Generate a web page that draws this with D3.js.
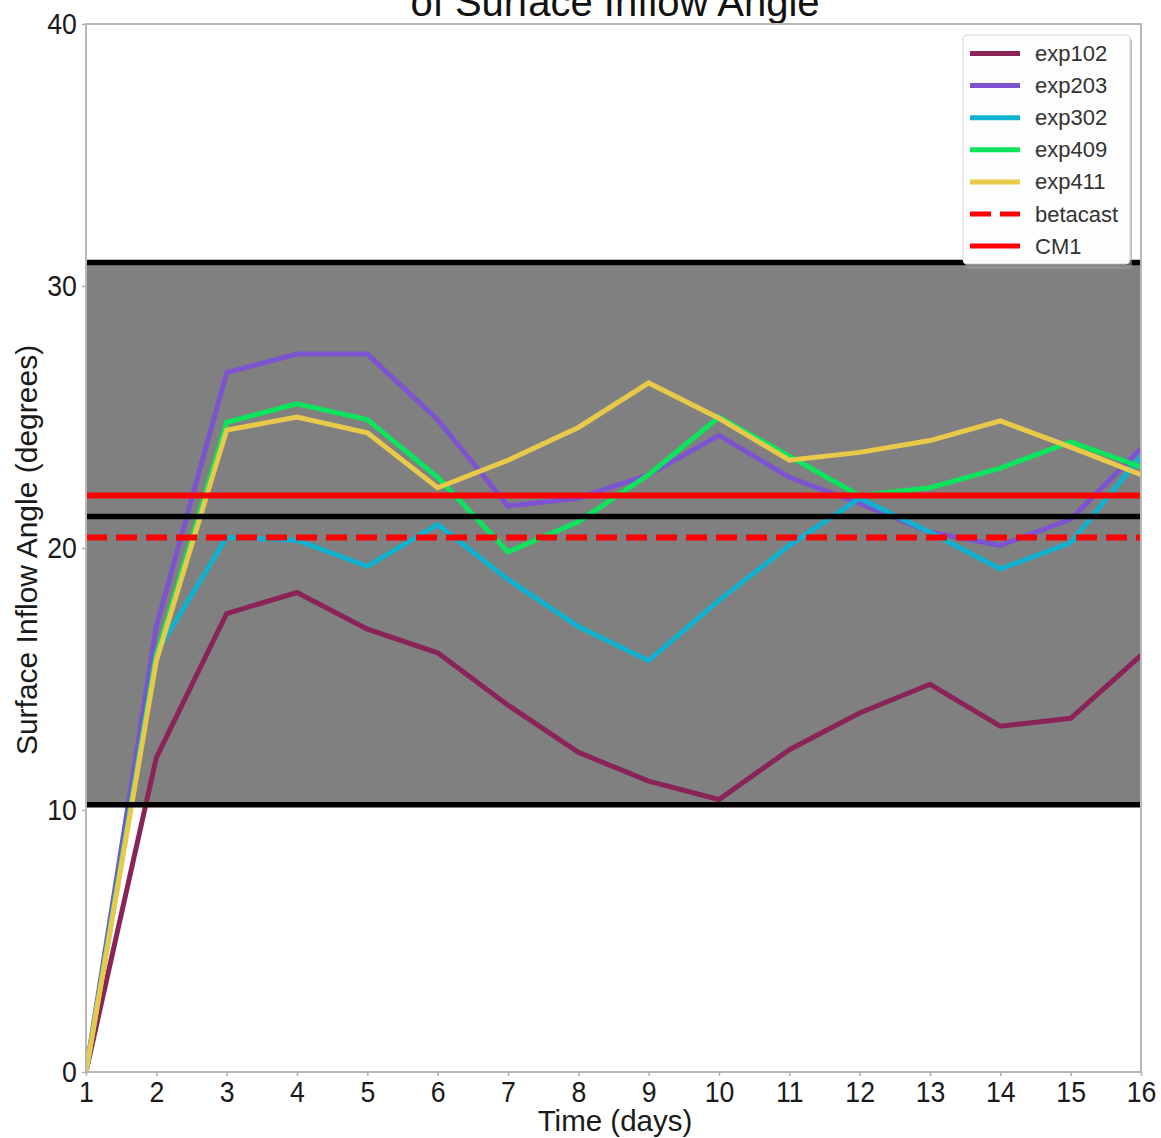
<!DOCTYPE html>
<html>
<head>
<meta charset="utf-8">
<script src="https://cdn.jsdelivr.net/npm/d3@7"></script>
<style>
  html, body { margin: 0; padding: 0; background: #fff; }
  svg { display: block; font-family: "Liberation Sans", Arial, Helvetica, sans-serif; }
</style>
</head>
<body>
<svg id="chart" width="1161" height="1138"></svg>
<script>
// Days along the x axis
const days = [1, 2, 3, 4, 5, 6, 7, 8, 9, 10, 11, 12, 13, 14, 15, 16];

// Surface inflow angle (degrees) per experiment
const exp102 = [0, 12.0, 17.5, 18.3, 16.9, 16.0, 14.0, 12.2, 11.1, 10.4, 12.3, 13.7, 14.8, 13.2, 13.5, 15.9];
const exp203 = [0, 17.0, 26.7, 27.4, 27.4, 24.9, 21.6, 21.9, 22.8, 24.3, 22.7, 21.7, 20.6, 20.1, 21.1, 23.8];
const exp302 = [0, 16.0, 20.4, 20.3, 19.3, 20.9, 18.8, 17.0, 15.7, 18.0, 20.1, 21.9, 20.6, 19.2, 20.2, 23.5];
const exp409 = [0, 15.9, 24.8, 25.5, 24.9, 22.7, 19.85, 21.0, 22.8, 25.0, 23.5, 22.0, 22.3, 23.05, 24.05, 23.1];
const exp411 = [0, 15.7, 24.5, 25.0, 24.4, 22.3, 23.35, 24.6, 26.3, 24.95, 23.35, 23.65, 24.1, 24.85, 23.85, 22.8];

// Reference values
const betacast = 20.4;
const cm1 = 22.0;
const obsMean = 21.2;
const obsRange = [10.2, 30.9];

// Axis ticks
const xTicks = days;
const yTicks = [0, 10, 20, 30, 40];

const seriesNames = ["exp102", "exp203", "exp302", "exp409", "exp411"];
const seriesValues = [exp102, exp203, exp302, exp409, exp411];
const seriesColors = ["#8a2458", "#7c54cf", "#10b2cf", "#0be45c", "#e9c94a"];

const svg = d3.select("#chart");
const plotL = 86, plotR = 1141, plotT = 24, plotB = 1072;

const x = d3.scaleLinear().domain([1, 16]).range([plotL, plotR]);
const y = d3.scaleLinear().domain([0, 40]).range([plotB, plotT]);

svg.append("defs").append("clipPath").attr("id", "plotClip")
  .append("rect").attr("x", plotL).attr("y", plotT)
  .attr("width", plotR - plotL).attr("height", plotB - plotT);

// Title (second line of the title)
svg.append("text")
  .attr("x", 615).attr("y", 16)
  .attr("text-anchor", "middle")
  .attr("font-size", 40)
  .attr("fill", "#111")
  .text("of Surface Inflow Angle");

const plot = svg.append("g").attr("clip-path", "url(#plotClip)");

// Shaded range between the two bounds
plot.append("rect")
  .attr("x", plotL).attr("width", plotR - plotL)
  .attr("y", y(obsRange[1])).attr("height", y(obsRange[0]) - y(obsRange[1]))
  .attr("fill", "#808080");

// Experiment lines
const line = d3.line().x((d, i) => x(days[i])).y(d => y(d));
seriesValues.forEach((vals, k) => {
  plot.append("path")
    .datum(vals)
    .attr("d", line)
    .attr("fill", "none")
    .attr("stroke", seriesColors[k])
    .attr("stroke-width", 5)
    .attr("stroke-linejoin", "miter");
});

// Horizontal reference lines
[obsRange[1], obsRange[0], obsMean].forEach(v => {
  plot.append("line")
    .attr("x1", plotL).attr("x2", plotR)
    .attr("y1", y(v)).attr("y2", y(v))
    .attr("stroke", "#000").attr("stroke-width", 5.5);
});
plot.append("line")
  .attr("x1", plotL).attr("x2", plotR)
  .attr("y1", y(cm1)).attr("y2", y(cm1))
  .attr("stroke", "#ff0000").attr("stroke-width", 6);
plot.append("line")
  .attr("x1", plotL).attr("x2", plotR)
  .attr("y1", y(betacast)).attr("y2", y(betacast))
  .attr("stroke", "#ff0000").attr("stroke-width", 6)
  .attr("stroke-dasharray", "21,9");

// Frame
svg.append("rect")
  .attr("x", plotL).attr("y", plotT)
  .attr("width", plotR - plotL).attr("height", plotB - plotT)
  .attr("fill", "none").attr("stroke", "#b8b8b8").attr("stroke-width", 2);

// Axes
const xAxis = svg.append("g")
  .attr("transform", `translate(0,${plotB})`)
  .call(d3.axisBottom(x).tickValues(xTicks).tickFormat(d3.format("d")).tickSize(4).tickPadding(5));
const yAxis = svg.append("g")
  .attr("transform", `translate(${plotL},0)`)
  .call(d3.axisLeft(y).tickValues(yTicks).tickFormat(d3.format("d")).tickSize(4).tickPadding(6));

[xAxis, yAxis].forEach(g => {
  g.select(".domain").remove();
  g.selectAll(".tick line").attr("stroke", "#b0b0b0").attr("stroke-width", 1.5);
  g.selectAll(".tick text")
    .attr("font-size", 29)
    .attr("fill", "#1a1a1a")
    .attr("font-family", "'Liberation Sans', Arial, sans-serif");
});
xAxis.selectAll(".tick text").attr("transform", "scale(0.92,1)");
yAxis.selectAll(".tick text").attr("transform", "scale(0.92,1)");

// Axis labels
svg.append("text")
  .attr("x", 615).attr("y", 1131)
  .attr("text-anchor", "middle")
  .attr("font-size", 29.5)
  .attr("fill", "#1a1a1a")
  .text("Time (days)");

svg.append("text")
  .attr("transform", "translate(37,550) rotate(-90)")
  .attr("text-anchor", "middle")
  .attr("font-size", 30)
  .attr("fill", "#1a1a1a")
  .text("Surface Inflow Angle (degrees)");

// Legend
const legendItems = seriesNames.map((n, i) => ({ name: n, color: seriesColors[i], dash: null }))
  .concat([{ name: "betacast", color: "#ff0000", dash: "21,9" }, { name: "CM1", color: "#ff0000", dash: null }]);

const lg = svg.append("g");
lg.append("rect")
  .attr("x", 965).attr("y", 38).attr("width", 167).attr("height", 231)
  .attr("rx", 4).attr("fill", "#9a9a9a").attr("opacity", 0.6);
lg.append("rect")
  .attr("x", 963).attr("y", 35).attr("width", 167).attr("height", 229)
  .attr("rx", 4).attr("fill", "#ffffff").attr("fill-opacity", 0.97)
  .attr("stroke", "#d4d4d4").attr("stroke-width", 1);

legendItems.forEach((it, i) => {
  const yy = 53.5 + i * 32.1;
  lg.append("line")
    .attr("x1", 970).attr("x2", 1020)
    .attr("y1", yy).attr("y2", yy)
    .attr("stroke", it.color).attr("stroke-width", 5)
    .attr("stroke-dasharray", it.dash);
  lg.append("text")
    .attr("x", 1035).attr("y", yy + 7.5)
    .attr("font-size", 22)
    .attr("fill", "#333")
    .text(it.name);
});
</script>
</body>
</html>
